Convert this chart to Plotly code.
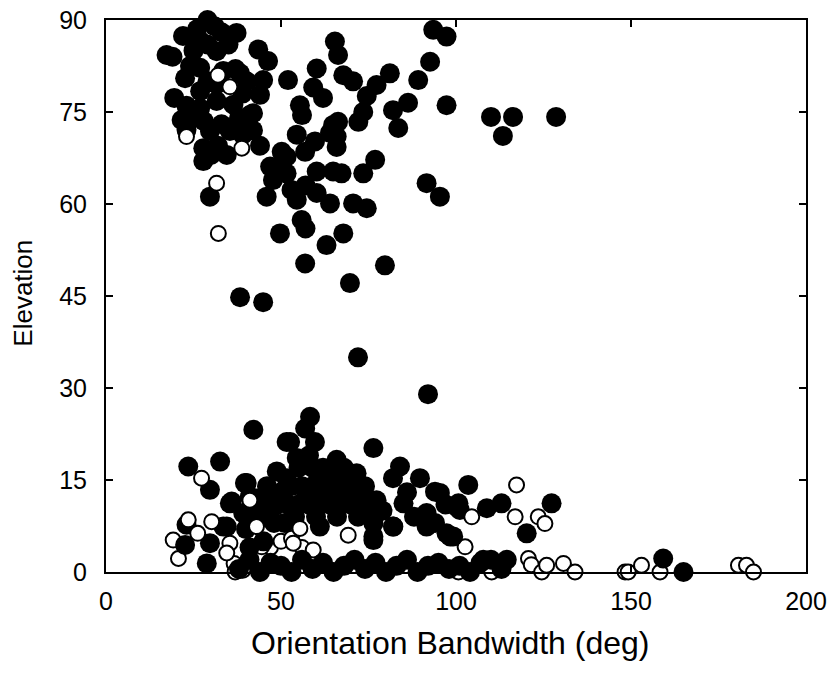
import plotly.graph_objects as go

# ---- filled circles (Orientation Bandwidth in deg, Elevation) ----
filled_bw = [
    # upper-left dense cluster
    29, 31, 26, 33, 22, 37.3, 25, 17.3, 19, 43.5, 46.3, 26.9, 31.6, 29, 35,
    22.6, 24, 26.9, 33.5, 29, 37, 40.2, 44, 26.9, 31.6, 19.5, 23, 26.9, 31.6,
    36.4, 39, 41.1, 21.6, 23, 25, 29.7, 35.4, 39.1, 33, 27.8, 27.8, 30, 34.5,
    32, 44, 42, 38, 28, 44.9, 38.3, 42,
    # upper middle / right
    52, 65.4, 66.3, 60.2, 59.2, 62, 55.4, 56, 67.8, 70.6, 77.3, 81.1, 74.5,
    73.5, 72.1, 66.3, 64.9, 65.9, 64, 65.9, 59.7, 54.5, 56.9, 51.6, 50.2, 46.9,
    50.2, 51.6, 47.7, 60.2, 64.9, 67.3, 76.9, 73.5, 82, 83.5, 86.3, 89.2, 92.6,
    93.5, 97.3, 97.3, 91.6, 95.4, 45.9, 54.5, 53, 57, 60.2, 64, 70.6, 74.5,
    55.9, 57, 49.7, 63, 67.8, 56.9, 79.7, 69.7, 29.7, 38.3, 44.9, 110, 116.3,
    113.4, 128.6, 72, 92,
    # lower group
    42.1, 51.6, 23.5, 32.6, 29.7, 40.2, 48.8, 35.9, 23, 34.5, 22.6, 29.7, 28.8,
    39.2, 58.3, 56.9, 59.7, 52.6, 76.4, 84, 82, 89.7, 94, 55.9, 65.9, 71.6,
    77.3, 85, 91.6, 61.1, 76.4, 76.4, 82.1, 97.3, 103.5, 100.7, 108.8, 113,
    127.3, 120.2, 99.2, 101.1, 95.4, 114.5, 107.8, 159.2, 165, 39.7, 35.4, 33.5,
    90.7, 100.2, 82, 91.6, 98.3, 76.4, 76.4, 41.1, 51.6, 54.5,
    55, 59, 62, 65, 68,
    53, 56, 59, 62, 65, 68, 71, 74,
    52, 55, 58, 61, 64, 67, 70, 73, 76,
    54, 60, 66, 72,
    44, 47, 50, 46, 48, 51, 43,
    40, 43, 45, 47, 49, 45, 41,
    58, 61, 64, 67, 70, 73, 62, 66, 57, 88, 94, 97, 86, 79,
    # bottom row
    38, 41, 44, 47, 50, 53, 56, 59, 62, 65, 68, 71, 74, 77, 80, 83, 86, 89,
    92, 95, 98, 101, 104, 107, 110, 113,
]
filled_el = [
    90, 89, 88.5, 88, 87.4, 87.9, 85, 84.3, 84, 85.2, 83.3, 86.6, 84.9, 86, 86,
    80.5, 82.5, 82.2, 81.7, 80, 82, 80, 77.8, 78.4, 79.5, 77.3, 76, 75.6, 76.8,
    76.2, 78, 74.5, 73.7, 72.1, 74, 71.9, 71.9, 71.3, 73, 69.1, 67, 68, 68,
    69.5, 69.5, 72, 74, 73.5, 80.2, 81.3, 74.8,
    80.2, 86.5, 84.3, 82.1, 79, 77.3, 76.1, 74.5, 81, 80, 79.4, 81.3, 77.6,
    75, 73.4, 73.4, 72.9, 71, 71.6, 69.3, 70.2, 71.3, 68.5, 67.7, 68.5, 66.1,
    66.1, 65, 63.9, 65.3, 65.3, 65, 67.2, 65, 75.3, 72.4, 76.5, 80.2, 83.2,
    88.4, 87.3, 76.1, 63.4, 61.2, 61.2, 60.7, 62.3, 63, 61.8, 60.1, 60.1, 59.3,
    57.4, 56, 55.2, 53.3, 55.2, 50.3, 50, 47.1, 61.2, 44.8, 44, 74.2, 74.2,
    71.1, 74.2, 35, 29,
    23.2, 21.2, 17.2, 18, 13.4, 14.5, 16.4, 11.5, 7.7, 7.4, 4.4, 4.7, 1.4,
    9.6, 25.3, 23.4, 21.2, 21.2, 20.2, 17.2, 15.3, 15.3, 13.1, 17.4, 18.3, 16.1,
    11.7, 11.2, 9.6, 7.4, 5.8, 7.9, 7.4, 6.3, 14.2, 11.2, 10.4, 11.2,
    11.2, 6.3, 5.8, 10.1, 12.9, 2, 2, 2.2, 0, 14.5, 11.2, 7.4,
    9, 10.6, 7.4, 7.4, 5.8, 5.2, 8.5, 12.3, 15.3, 18.6,
    17, 17, 17, 17, 17,
    14, 14, 14, 14, 14, 14, 14, 14,
    11, 11, 11, 11, 11, 11, 11, 11, 11,
    9, 9, 9, 9,
    12, 10, 13, 14, 8, 8, 9,
    7, 12, 9, 13, 11, 5, 4,
    19, 16, 15.5, 16.5, 13, 12.5, 12, 12.5, 12, 9, 8, 11, 13, 10,
    0.5, 2, 0, 1.5, 1, 0, 2, 0.5, 1.5, 0, 1, 2, 0.5, 1.5, 0, 1, 2, 0,
    1, 1.5, 0.5, 1, 0, 1.5, 2, 0.5,
]

# ---- open circles ----
open_bw = [
    32, 35.4, 23, 38.8, 31.6, 32.1,
    27.3, 23.5, 30.2, 19.2, 20.7, 26.2, 38.3, 36.6, 117.3, 116.9, 123.5, 125.4,
    102.6, 104.5, 120.7, 121.5, 124.5, 125.9, 130.7, 134, 148.3, 149.2, 153,
    158.3, 180.7, 183, 185, 110.2, 100.7, 55.4, 69.2, 47, 50, 53, 56, 59.2,
    44.5, 35.4, 34.5, 36.9, 39.1, 41.1, 43, 53.5,
]
open_el = [
    81, 79.1, 71, 69.1, 63.4, 55.2,
    15.3, 8.5, 8.2, 5.2, 2.2, 6.3, 0.3, 1.4, 14.2, 9, 9, 7.9,
    4.1, 9, 2.2, 1.2, 0, 1.1, 1.4, 0, 0, 0, 1.1,
    0, 1.1, 1.1, 0, 0, 0, 7.1, 6, 4, 5, 5.5, 4, 3.6,
    4.1, 4.7, 3.1, 0, 0.3, 11.7, 7.4, 4.7,
]

x_ticks = [0, 50, 100, 150, 200]
y_ticks = [0, 15, 30, 45, 60, 75, 90]

FONT = "Liberation Sans, Arial, sans-serif"

back_x = [x for x, y in zip(open_bw, open_el) if y <= 6]
back_y = [y for y in open_el if y <= 6]
front_x = [x for x, y in zip(open_bw, open_el) if y > 6]
front_y = [y for y in open_el if y > 6]

open_marker = dict(symbol="circle", size=15, color="white",
                   line=dict(color="black", width=2))

fig = go.Figure()
fig.add_trace(go.Scatter(x=back_x, y=back_y, mode="markers",
                         marker=open_marker, cliponaxis=False, showlegend=False))
fig.add_trace(go.Scatter(x=filled_bw, y=filled_el, mode="markers",
                         marker=dict(symbol="circle", size=20, color="black",
                                     line=dict(width=0)),
                         cliponaxis=False, showlegend=False))
fig.add_trace(go.Scatter(x=front_x, y=front_y, mode="markers",
                         marker=open_marker, cliponaxis=False, showlegend=False))

axis_common = dict(
    showgrid=False, zeroline=False, showline=True, linecolor="black",
    linewidth=2, mirror="ticks", ticks="inside", ticklen=7, tickwidth=2,
    tickcolor="black", tickfont=dict(family=FONT, size=25, color="black"),
    automargin=False, ticklabeloverflow="allow",
)

fig.update_xaxes(range=[0, 200], tickvals=x_ticks,
                 ticktext=[str(v) for v in x_ticks],
                 ticklabelstandoff=6, **axis_common)
fig.update_yaxes(range=[0, 90], tickvals=y_ticks,
                 ticktext=[str(v) for v in y_ticks],
                 ticklabelstandoff=12, **axis_common)

fig.add_annotation(text="Orientation Bandwidth (deg)", xref="paper", yref="paper",
                   x=0.491, y=-0.128, xanchor="center", yanchor="middle",
                   showarrow=False,
                   font=dict(family=FONT, size=32, color="black"))
fig.add_annotation(text="Elevation", xref="paper", yref="paper",
                   x=-0.1186, y=0.506, xanchor="center", yanchor="middle",
                   textangle=-90, showarrow=False,
                   font=dict(family=FONT, size=26, color="black"))

fig.update_layout(
    width=833, height=675,
    margin=dict(l=106, r=27, t=20, b=103),
    paper_bgcolor="white", plot_bgcolor="white",
    font=dict(family=FONT, color="black"),
)

# remove the default page margin so the figure sits at the window's corner
fig.write_html("out.html",
               config={"displayModeBar": False},
               post_script="document.body.style.margin='0';")
